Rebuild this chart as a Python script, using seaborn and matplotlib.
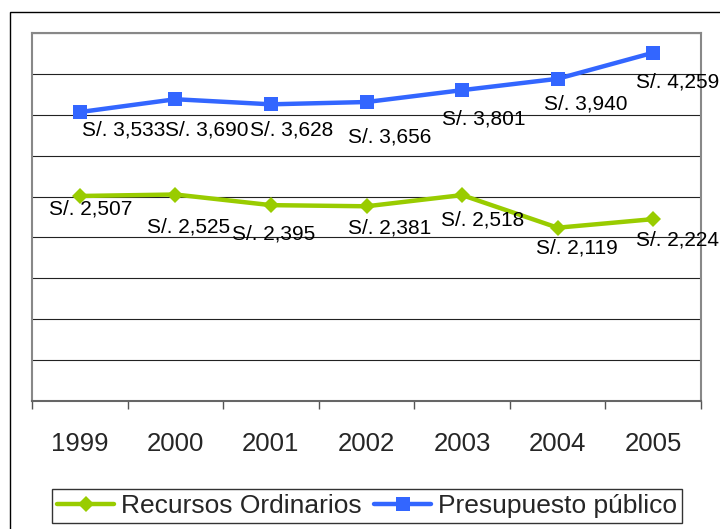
import seaborn as sns
import pandas as pd
import matplotlib.pyplot as plt
from matplotlib.patches import Rectangle
from matplotlib.ticker import MultipleLocator, FixedLocator

years = [1999, 2000, 2001, 2002, 2003, 2004, 2005]
recursos = [2507, 2525, 2395, 2381, 2518, 2119, 2224]
presupuesto = [3533, 3690, 3628, 3656, 3801, 3940, 4259]
series_names = ['Recursos Ordinarios', 'Presupuesto público']

# label offsets in pixels (Excel had them nudged by hand)
off_rec = [(11, -13), (13, -32), (3, -29), (23, -22), (21, -25), (19, -20), (24, -21)]
off_pre = [(44, -18), (31, -31), (21, -26), (23, -35), (22, -29), (28, -25), (24, -29)]

df = pd.DataFrame({
    'year': years * 2,
    'valor': recursos + presupuesto,
    'serie': [series_names[0]] * 7 + [series_names[1]] * 7,
})

sns.set_style('white')
plt.rcParams['font.family'] = ['Liberation Sans', 'DejaVu Sans']

fig = plt.figure(figsize=(7.2, 5.29), dpi=100)
ax = fig.add_axes([32 / 720, 1 - 401 / 529, (701 - 32) / 720, (401 - 33) / 529])

pal = {series_names[0]: '#99CC00', series_names[1]: '#3366FF'}
mk = {series_names[0]: 'D', series_names[1]: 's'}
sns.lineplot(data=df, x='year', y='valor', hue='serie', style='serie',
             palette=pal, markers=mk, dashes=False, linewidth=3.2,
             markersize=10.5, markeredgewidth=0, ax=ax)
for line in ax.lines:
    if line.get_marker() == 'D':
        line.set_markersize(8.5)

ax.set_xlim(1998.5, 2005.5)
ax.set_ylim(0, 4500)
ax.yaxis.set_major_locator(MultipleLocator(500))
ax.grid(axis='y', color='#222222', linewidth=0.8)
ax.grid(axis='x', visible=False)
ax.tick_params(axis='y', left=False, labelleft=False)
ax.set_xticks(years)
ax.set_xticklabels([str(y) for y in years], fontsize=18.5)
ax.tick_params(axis='x', which='major', length=0, pad=22)
ax.xaxis.set_minor_locator(FixedLocator([y - 0.5 for y in years] + [2005.5]))
ax.tick_params(axis='x', which='minor', bottom=True, length=6, width=1,
               color='#555555', direction='out')
ax.set_xlabel('')
ax.set_ylabel('')
for s in ax.spines.values():
    s.set_color('#888888')
    s.set_linewidth(1.5)
ax.spines['bottom'].set_color('#666666')

for x, v, (dx, dy) in zip(years, recursos, off_rec):
    ax.annotate(f'S/. {v:,}', (x, v), xytext=(dx, dy), textcoords='offset pixels',
                ha='center', va='center', fontsize=15, color='black')
for x, v, (dx, dy) in zip(years, presupuesto, off_pre):
    ax.annotate(f'S/. {v:,}', (x, v), xytext=(dx, dy), textcoords='offset pixels',
                ha='center', va='center', fontsize=15, color='black',
                annotation_clip=False)

ax.get_legend().remove()
handles = ax.lines[:2]
leg = fig.legend(handles, series_names, loc='center', ncol=2,
                 bbox_to_anchor=(367 / 720, 1 - 506 / 529), fontsize=19,
                 frameon=True, fancybox=False, edgecolor='black',
                 handlelength=2.15, handletextpad=0.25, columnspacing=0.5,
                 borderpad=0.2, borderaxespad=0)
leg.get_frame().set_linewidth(1)

# outer chart border (only left and top visible)
fig.patches.append(Rectangle((10 / 720, -0.1), 1.2, (529 - 12) / 529 + 0.1,
                             transform=fig.transFigure, fill=False,
                             edgecolor='black', linewidth=1))

fig.savefig('out.png', dpi=100)
